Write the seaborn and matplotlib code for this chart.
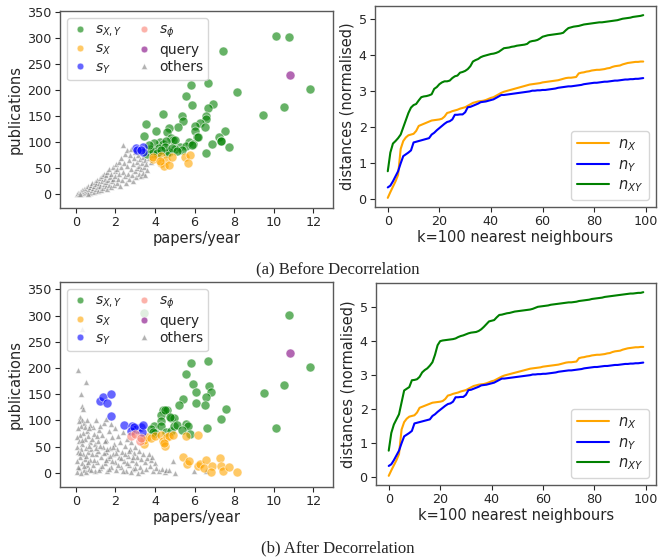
import numpy as np
import pandas as pd
import matplotlib
matplotlib.use("Agg")
import matplotlib.pyplot as plt
from matplotlib.lines import Line2D
import seaborn as sns

# ---------------- scatter data: before decorrelation ----------------
b_sxy_x = [10.1, 10.79, 7.43, 11.86, 6.66, 5.82, 8.15, 5.55, 6.91, 6.69, 5.89, 10.5, 9.48, 4.43, 5.39,
           6.58, 6.58, 5.42, 6.28, 6.0, 3.56, 5.15, 6.53, 4.73, 4.62, 6.04, 7.55, 4.03, 3.47, 6.14,
           7.23, 7.32, 4.26, 4.83, 4.92, 5.0, 5.7, 6.86, 7.74, 6.58, 5.28, 5.57, 5.94, 3.94, 3.62,
           4.08, 4.99, 4.7, 5.37, 4.61, 4.4, 4.55, 3.75, 3.9, 4.2, 4.5, 5.85, 6.2, 7.35, 3.7, 4.1,
           4.85, 5.1, 4.3]
b_sxy_y = [304, 303, 276, 202, 214, 210, 196, 189, 173, 166, 171, 168, 152, 155, 150,
           151, 144, 141, 138, 132, 135, 130, 130, 127, 119, 122, 121, 122, 112, 111,
           111, 103, 101, 109, 104, 104, 101, 96, 92, 79, 92, 93, 97, 98, 77,
           77, 88, 82, 85, 79, 96, 103, 88, 83, 90, 92, 95, 110, 102, 95, 80,
           90, 84, 85]
b_sx_x = [3.88, 4.31, 4.33, 4.55, 4.46, 4.70, 4.88, 5.52, 5.79, 5.65, 3.9, 4.25]
b_sx_y = [68, 74, 61, 67, 54, 56, 72, 72, 75, 61, 72, 65]
b_sy_x = [3.02, 3.39, 3.41, 3.07, 3.3]
b_sy_y = [90, 91, 82, 85, 85]
b_sphi_x = []
b_sphi_y = []
b_query_x = [10.84]
b_query_y = [229]
b_oth_x = [0.05, 0.1, 0.15, 0.2, 0.25, 0.3, 0.3, 0.35, 0.4, 0.4, 0.45, 0.5, 0.5, 0.55, 0.6, 0.6, 0.65,
           0.7, 0.7, 0.75, 0.8, 0.8, 0.85, 0.9, 0.9, 0.95, 1.0, 1.0, 1.05, 1.1, 1.1, 1.15, 1.2, 1.2,
           1.25, 1.3, 1.3, 1.35, 1.4, 1.4, 1.45, 1.5, 1.5, 1.55, 1.6, 1.6, 1.65, 1.7, 1.7, 1.75, 1.8,
           1.8, 1.85, 1.9, 1.9, 1.95, 2.0, 2.0, 2.05, 2.1, 2.1, 2.15, 2.2, 2.2, 2.25, 2.3, 2.3, 2.35,
           2.4, 2.4, 2.45, 2.5, 2.5, 2.55, 2.6, 2.6, 2.65, 2.7, 2.7, 2.75, 2.8, 2.8, 2.85, 2.9, 2.9,
           2.95, 3.0, 3.0, 3.05, 3.1, 3.1, 3.15, 3.2, 3.2, 3.25, 3.3, 3.3, 3.35, 3.4, 3.4, 3.45, 3.5,
           3.5, 3.55, 3.6, 3.6, 3.7, 3.8, 3.9, 4.0, 0.2, 0.6]
b_oth_y = [0, 2, 1, 4, 0, 3, 8, 5, 2, 10, 7, 4, 13, 9, 6, 16, 11,
           3, 14, 19, 8, 22, 12, 17, 5, 24, 10, 20, 28, 14, 6, 22, 31, 17,
           9, 26, 35, 13, 20, 40, 30, 16, 37, 24, 10, 44, 28, 19, 48, 33, 14,
           40, 25, 52, 30, 18, 45, 36, 58, 22, 48, 30, 62, 40, 16, 52, 70, 27,
           95, 44, 60, 35, 78, 22, 55, 85, 40, 66, 30, 75, 48, 88, 38, 58, 25,
           70, 45, 82, 33, 62, 50, 75, 40, 55, 68, 36, 48, 60, 72, 42, 53, 66,
           38, 58, 80, 46, 70, 62, 75, 85, 1, 1]

# ---------------- scatter data: after decorrelation ----------------
a_sxy_x = [10.8, 11.86, 5.84, 6.68, 5.57, 5.92, 6.71, 10.5, 6.81, 6.07, 5.44, 9.51, 6.6, 5.23, 6.07,
           6.53, 7.58, 7.35, 10.12, 6.61, 4.41, 4.61, 4.33, 4.82, 4.98, 4.33, 3.96, 3.81, 4.0, 4.33,
           4.58, 4.83, 4.97, 5.13, 5.55, 5.65, 5.35, 5.79, 4.5, 4.75, 3.9, 3.47]
a_sxy_y = [302, 201, 209, 214, 188, 170, 166, 168, 155, 154, 141, 152, 144, 129, 133,
           129, 121, 103, 86, 85, 119, 120, 110, 105, 104, 98, 89, 83, 76, 90,
           78, 80, 90, 92, 94, 89, 81, 75, 119, 106, 78, 304]
a_sx_x = [3.45, 3.45, 3.6, 3.8, 3.98, 4.31, 4.41, 4.53, 4.61, 4.71, 4.9, 5.55, 6.19, 4.45,
          5.40, 5.62, 5.7, 6.17, 6.29, 6.58, 6.46, 6.9, 6.85, 7.28, 7.35, 7.45, 7.75, 8.17]
a_sx_y = [55, 63, 68, 67, 70, 73, 61, 52, 69, 71, 73, 71, 73, 57,
          31, 17, 23, 13, 17, 25, 9, 13, 2, 28, 14, 4, 11, 1]
a_sy_x = [1.22, 1.38, 1.58, 1.78, 1.79, 2.42, 2.84, 3.02, 3.3, 3.34, 3.41, 2.77, 2.93]
a_sy_y = [137, 145, 134, 150, 109, 92, 90, 83, 87, 78, 92, 79, 87]
a_sphi_x = [2.8, 3.0, 3.25, 3.3]
a_sphi_y = [70, 74, 60, 66]
a_query_x = [10.84]
a_query_y = [229]
a_oth_x = [0.12, 0.5, 0.25, 0.3, 0.35, 0.2, 0.3, 0.15, 0.4, 0.25, 0.45, 0.1, 0.55, 0.35, 0.2, 0.6,
           0.05, 0.45, 0.15, 0.3, 0.7, 0.05, 0.25, 0.5, 0.1, 0.35, 0.6, 0.2, 0.45, 0.05, 0.3, 0.55,
           0.15, 0.4, 0.05, 0.25, 0.5, 0.65, 0.7, 0.75, 0.8, 0.85, 0.9, 0.95, 1.0, 0.85, 0.95, 1.05,
           1.1, 1.15, 1.1, 1.2, 1.25, 1.3, 1.35, 1.4, 1.45, 1.5, 1.5, 1.55, 1.6, 1.65, 1.7, 1.75,
           1.8, 1.8, 1.85, 1.9, 1.95, 2.0, 2.0, 2.05, 2.1, 2.15, 2.2, 2.25, 2.3, 2.35, 2.4, 2.45,
           2.5, 2.55, 2.6, 2.65, 2.7, 2.75, 2.8, 2.85, 2.9, 2.95, 3.0, 3.05, 3.1, 3.15, 3.2, 3.25,
           3.3, 3.35, 3.4, 3.5, 3.55, 3.6, 3.7, 3.75, 3.8, 3.86, 3.9, 4.0, 4.06, 4.2, 4.36, 4.5,
           4.56, 4.7, 4.93, 5.0, 5.96, 6.58, 0.3,
           0.1, 0.2, 0.3, 0.4, 0.5, 0.6, 0.65, 0.75, 0.8, 0.9, 1.0, 1.05, 1.15, 1.2, 1.3, 1.4,
           1.45, 1.55, 1.6, 1.7, 1.75, 1.85, 1.9, 2.05, 2.15, 2.3, 2.4, 2.5, 2.6, 2.7, 2.8, 2.9,
           3.0, 0.55, 0.7, 1.0, 0.65, 1.2]
a_oth_y = [196, 173, 150, 127, 122, 107, 100, 98, 95, 90, 88, 85, 80, 76, 72, 70,
           68, 64, 60, 55, 58, 50, 46, 48, 40, 36, 40, 30, 26, 22, 18, 15,
           10, 6, 2, 0, 2, 8, 25, 45, 65, 88, 75, 55, 35, 15, 4, 20,
           60, 82, 42, 10, 30, 72, 50, 95, 18, 103, 40, 62, 3, 28, 80, 48,
           94, 12, 68, 35, 55, 20, 85, 6, 45, 70, 30, 58, 12, 40, 78, 22,
           52, 4, 65, 32, 15, 46, 58, 25, 8, 38, 50, 18, 30, 0, 42, 12,
           26, 4, 35, 20, 8, 28, 36, 14, 25, 31, 4, 18, 10, 3, 7, 2,
           5, 5, 22, 0, 4, 4, 275,
           12, 38, 62, 14, 32, 20, 52, 5, 35, 25, 48, 70, 5, 52, 14, 38,
           60, 25, 45, 8, 32, 22, 50, 38, 15, 28, 3, 35, 18, 42, 2, 30,
           10, 100, 92, 100, 85, 90]

# ---------------- line data ----------------
k = list(range(100))
n_x = [0.04, 0.2, 0.35, 0.5, 0.68, 1.4, 1.62, 1.72, 1.78, 1.8,
       1.82, 1.9, 2.04, 2.07, 2.1, 2.13, 2.16, 2.19, 2.2, 2.21,
       2.22, 2.24, 2.3, 2.4, 2.42, 2.45, 2.47, 2.49, 2.52, 2.54,
       2.56, 2.6, 2.64, 2.68, 2.7, 2.72, 2.73, 2.74, 2.76, 2.79,
       2.82, 2.84, 2.88, 2.92, 2.96, 2.99, 3.01, 3.03, 3.05, 3.07,
       3.09, 3.11, 3.13, 3.15, 3.17, 3.19, 3.2, 3.21, 3.22, 3.23,
       3.25, 3.26, 3.27, 3.28, 3.29, 3.3, 3.31, 3.33, 3.35, 3.37,
       3.38, 3.38, 3.39, 3.4, 3.5, 3.52, 3.53, 3.55, 3.56, 3.58,
       3.59, 3.6, 3.6, 3.61, 3.62, 3.64, 3.65, 3.68, 3.7, 3.71,
       3.72, 3.75, 3.77, 3.79, 3.8, 3.81, 3.82, 3.82, 3.83, 3.83]
n_y = [0.33, 0.38, 0.5, 0.64, 0.78, 1.0, 1.2, 1.25, 1.3, 1.36,
       1.58, 1.6, 1.62, 1.64, 1.66, 1.68, 1.7, 1.8, 1.85, 1.92,
       1.98, 2.04, 2.1, 2.15, 2.17, 2.22, 2.35, 2.35, 2.36, 2.36,
       2.42, 2.56, 2.57, 2.6, 2.63, 2.66, 2.7, 2.71, 2.72, 2.74,
       2.76, 2.78, 2.82, 2.86, 2.9, 2.9, 2.91, 2.92, 2.93, 2.94,
       2.95, 2.96, 2.97, 2.98, 2.99, 3.0, 3.02, 3.02, 3.03, 3.03,
       3.04, 3.04, 3.05, 3.06, 3.07, 3.08, 3.1, 3.11, 3.12, 3.13,
       3.14, 3.14, 3.15, 3.16, 3.17, 3.18, 3.2, 3.21, 3.22, 3.23,
       3.24, 3.24, 3.25, 3.26, 3.27, 3.27, 3.28, 3.29, 3.3, 3.3,
       3.31, 3.32, 3.33, 3.33, 3.34, 3.34, 3.35, 3.35, 3.36, 3.37]
n_xy_before = [0.78, 1.3, 1.55, 1.62, 1.7, 1.8, 2.0, 2.2, 2.4, 2.55,
               2.62, 2.65, 2.75, 2.84, 2.86, 2.87, 2.89, 2.92, 3.07, 3.12,
               3.2, 3.25, 3.28, 3.28, 3.3, 3.37, 3.42, 3.44, 3.52, 3.54,
               3.57, 3.62, 3.7, 3.83, 3.87, 3.9, 3.95, 3.98, 4.0, 4.02,
               4.04, 4.05, 4.07, 4.1, 4.15, 4.2, 4.21, 4.22, 4.24, 4.25,
               4.27, 4.28, 4.29, 4.3, 4.32, 4.38, 4.4, 4.41, 4.43, 4.47,
               4.52, 4.54, 4.56, 4.57, 4.58, 4.59, 4.6, 4.61, 4.63, 4.7,
               4.76, 4.78, 4.8, 4.81, 4.82, 4.84, 4.86, 4.87, 4.88, 4.89,
               4.9, 4.91, 4.92, 4.92, 4.93, 4.94, 4.95, 4.96, 4.97, 4.98,
               5.0, 5.02, 5.03, 5.04, 5.05, 5.07, 5.08, 5.09, 5.1, 5.12]
n_xy_after = [0.78, 1.3, 1.55, 1.7, 1.85, 2.2, 2.55, 2.6, 2.65, 2.85,
              2.86, 2.88, 2.95, 3.08, 3.15, 3.2, 3.28, 3.38, 3.6, 3.88,
              4.0, 4.02, 4.03, 4.04, 4.05, 4.06, 4.08, 4.12, 4.15, 4.17,
              4.2, 4.23, 4.25, 4.26, 4.27, 4.3, 4.35, 4.42, 4.5, 4.58,
              4.6, 4.62, 4.7, 4.77, 4.78, 4.8, 4.82, 4.83, 4.85, 4.87,
              4.88, 4.89, 4.9, 4.91, 4.92, 4.93, 4.95, 4.98, 5.01, 5.02,
              5.03, 5.04, 5.05, 5.07, 5.08, 5.09, 5.1, 5.11, 5.12, 5.13,
              5.14, 5.14, 5.15, 5.16, 5.18, 5.19, 5.2, 5.21, 5.22, 5.24,
              5.25, 5.26, 5.27, 5.28, 5.3, 5.31, 5.32, 5.33, 5.34, 5.35,
              5.36, 5.37, 5.38, 5.39, 5.4, 5.4, 5.41, 5.42, 5.42, 5.44]

x_ticks_sc = [0, 2, 4, 6, 8, 10, 12]
y_ticks_sc = [0, 50, 100, 150, 200, 250, 300, 350]
x_ticks_ln = [0, 20, 40, 60, 80, 100]
y_ticks_ln = [0, 1, 2, 3, 4, 5]

# ---------------- style ----------------
sns.set_style("ticks")
plt.rcParams["font.family"] = ["DejaVu Sans"]
plt.rcParams["axes.edgecolor"] = "0.35"
plt.rcParams["axes.linewidth"] = 1.0
plt.rcParams["xtick.color"] = "0.15"
plt.rcParams["ytick.color"] = "0.15"

COL = {"sxy": "green", "sx": "orange", "sy": "blue", "sphi": "salmon",
       "query": "purple", "oth": "gray"}
ALPHA = 0.6

W, H = 661, 559
fig = plt.figure(figsize=(W / 100, H / 100), dpi=100)


def ax_at(l, t, r, b):
    return fig.add_axes([l / W, 1 - b / H, (r - l) / W, (b - t) / H])


def scatter_panel(ax, groups, ylim):
    for (xs, ys, key, marker, s) in groups:
        if len(xs) == 0:
            continue
        df = pd.DataFrame({"x": xs, "y": ys})
        sns.scatterplot(data=df, x="x", y="y", ax=ax, color=COL[key], marker=marker,
                        s=s, alpha=ALPHA, edgecolor="white", linewidth=0.6)
    ax.set_xlim(-0.8, 13.0)
    ax.set_ylim(*ylim)
    ax.set_xticks(x_ticks_sc)
    ax.set_yticks(y_ticks_sc)
    ax.tick_params(labelsize=9.2, length=3.5, pad=2.5)
    ax.set_xlabel("papers/year", fontsize=10.5, labelpad=1)
    ax.set_ylabel("publications", fontsize=10.5, labelpad=3)
    for sp in ax.spines.values():
        sp.set_visible(True)
    handles = [
        Line2D([], [], ls="", marker="o", color=COL["sxy"], alpha=ALPHA, ms=4.8, mec="white", mew=0.5),
        Line2D([], [], ls="", marker="o", color=COL["sx"], alpha=ALPHA, ms=4.8, mec="white", mew=0.5),
        Line2D([], [], ls="", marker="o", color=COL["sy"], alpha=ALPHA, ms=4.8, mec="white", mew=0.5),
        Line2D([], [], ls="", marker="o", color=COL["sphi"], alpha=ALPHA, ms=4.8, mec="white", mew=0.5),
        Line2D([], [], ls="", marker="o", color=COL["query"], alpha=ALPHA, ms=4.8, mec="white", mew=0.5),
        Line2D([], [], ls="", marker="^", color=COL["oth"], alpha=ALPHA, ms=4.5, mec="white", mew=0.5),
    ]
    labels = [r"$s_{X,Y}$", r"$s_X$", r"$s_Y$", r"$s_\phi$", "query", "others"]
    ax.legend(handles, labels, ncol=2, loc="upper left", fontsize=10, frameon=True,
              handletextpad=0.5, columnspacing=0.9, labelspacing=0.2,
              borderpad=0.35, handlelength=1.2, borderaxespad=0.5)


def line_panel(ax, nxy):
    df = pd.DataFrame({"k": k * 3,
                       "d": n_x + n_y + nxy,
                       "s": [r"$n_X$"] * 100 + [r"$n_Y$"] * 100 + [r"$n_{XY}$"] * 100})
    sns.lineplot(data=df, x="k", y="d", hue="s", ax=ax,
                 palette=["orange", "blue", "green"], linewidth=1.5)
    ax.set_xticks(x_ticks_ln)
    ax.set_yticks(y_ticks_ln)
    ax.tick_params(labelsize=9.2, length=3.5, pad=2.5)
    ax.set_xlabel("k=100 nearest neighbours", fontsize=10.5, labelpad=1)
    ax.set_ylabel("distances (normalised)", fontsize=10.5, labelpad=3)
    for sp in ax.spines.values():
        sp.set_visible(True)
    ax.legend(loc="lower right", fontsize=10.5, title=None, handlelength=2.2,
              labelspacing=0.25, borderpad=0.4, handletextpad=0.6)


ax1 = ax_at(60, 11, 333, 208)
scatter_panel(ax1, [
    (b_oth_x, b_oth_y, "oth", "^", 18),
    (b_sxy_x, b_sxy_y, "sxy", "o", 42),
    (b_sx_x, b_sx_y, "sx", "o", 42),
    (b_sy_x, b_sy_y, "sy", "o", 42),
    (b_sphi_x, b_sphi_y, "sphi", "o", 42),
    (b_query_x, b_query_y, "query", "o", 42),
], (-26, 352))
ax2 = ax_at(375, 6, 656, 207)
line_panel(ax2, n_xy_before)

ax3 = ax_at(60, 282, 333, 487)
scatter_panel(ax3, [
    (a_oth_x, a_oth_y, "oth", "^", 18),
    (a_sxy_x, a_sxy_y, "sxy", "o", 42),
    (a_sx_x, a_sx_y, "sx", "o", 42),
    (a_sy_x, a_sy_y, "sy", "o", 42),
    (a_sphi_x, a_sphi_y, "sphi", "o", 42),
    (a_query_x, a_query_y, "query", "o", 42),
], (-27, 364))
ax4 = ax_at(376, 283, 656, 485)
line_panel(ax4, n_xy_after)

fig.text(338 / W, 1 - 269 / H, "(a) Before Decorrelation", ha="center", va="center",
         fontsize=12, family="Liberation Serif")
fig.text(338 / W, 1 - 548 / H, "(b) After Decorrelation", ha="center", va="center",
         fontsize=12, family="Liberation Serif")

fig.savefig("out.png", dpi=100)
